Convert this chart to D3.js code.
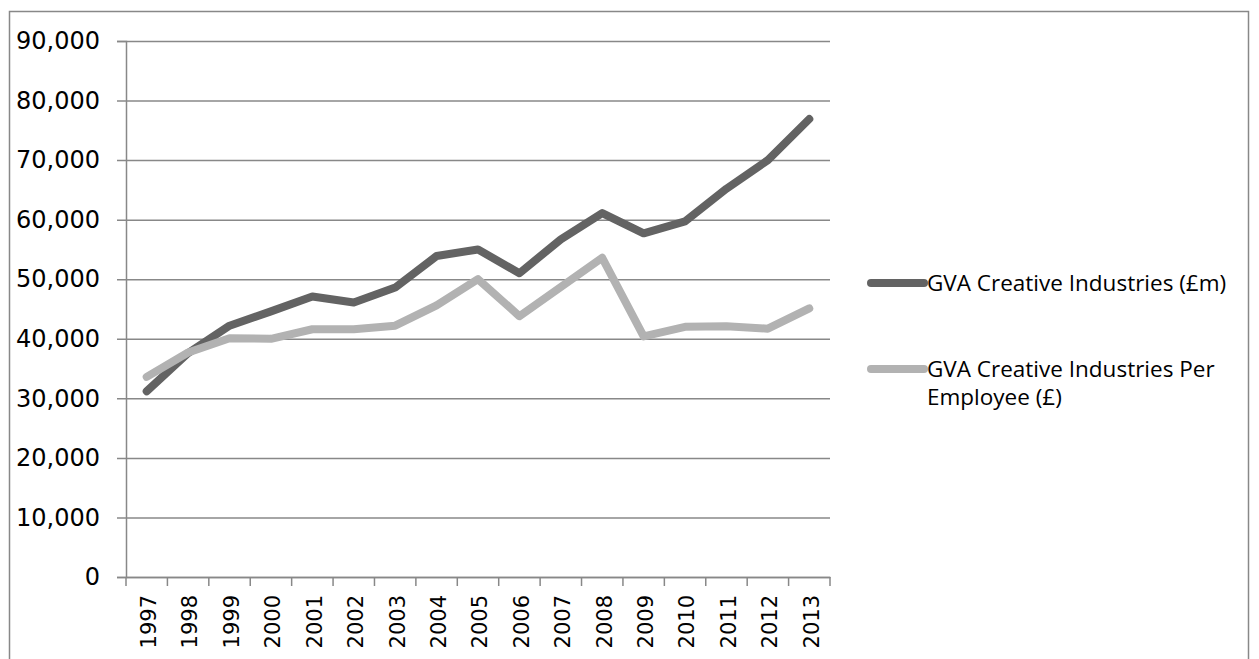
<!DOCTYPE html>
<html>
<head>
<meta charset="utf-8">
<script src="https://cdn.jsdelivr.net/npm/d3@7"></script>
<style>
  body { margin: 0; background: #fff; }
  text { fill: #000; }
</style>
</head>
<body>
<script>
const years = ['1997','1998','1999','2000','2001','2002','2003','2004','2005',
  '2006','2007','2008','2009','2010','2011','2012','2013'];
const gvaTotal = [31200, 37600, 42200, 44600, 47100, 46100, 48600, 53900, 55000,
  51000, 56700, 61100, 57700, 59700, 65200, 70000, 76900];
const gvaPerEmployee = [33600, 37700, 40100, 40000, 41600, 41600, 42200, 45600, 50000,
  43800, 48700, 53600, 40400, 42000, 42100, 41700, 45100];
const yTicks = [0, 10000, 20000, 30000, 40000, 50000, 60000, 70000, 80000, 90000];
// legend labels, already wrapped the way the reference wraps them
const seriesLabels = [['GVA Creative Industries (£m)'],
  ['GVA Creative Industries Per', 'Employee (£)']];

const width = 1259, height = 659;
const plotLeft = 126, plotRight = 830, plotTop = 41, plotBottom = 577;
const axisFont = '"DejaVu Sans", sans-serif';

const svg = d3.select('body').append('svg')
  .attr('width', width)
  .attr('height', height);

// outer frame
svg.append('rect')
  .attr('x', 9.5).attr('y', 11.5)
  .attr('width', 1239).attr('height', 660)
  .attr('fill', 'none').attr('stroke', '#888').attr('stroke-width', 1.5);

const x = d3.scaleBand().domain(years).range([plotLeft, plotRight]);
const y = d3.scaleLinear().domain([0, 90000]).range([plotBottom, plotTop]);

// gridlines + y ticks
const yAxis = svg.append('g')
  .attr('transform', `translate(${plotLeft},0)`)
  .call(d3.axisLeft(y).tickValues(yTicks).tickSize(9).tickPadding(17)
    .tickFormat(d3.format(',')));
yAxis.attr('font-family', null).attr('font-size', null);
yAxis.select('.domain').attr('stroke', '#888').attr('stroke-width', 1.5);
yAxis.selectAll('.tick line').attr('stroke', '#888').attr('stroke-width', 1.5)
  .attr('x1', plotRight - plotLeft);
yAxis.selectAll('.tick text')
  .style('font-size', '24px')
  .style('font-family', axisFont);

// x axis
const xAxis = svg.append('g')
  .attr('transform', `translate(0,${plotBottom})`)
  .call(d3.axisBottom(x).tickSize(0).tickFormat(d => d));
xAxis.attr('font-family', null).attr('font-size', null);
xAxis.select('.domain').attr('stroke', '#888').attr('stroke-width', 1.5);
xAxis.selectAll('.tick text')
  .style('font-size', '21px')
  .style('font-family', axisFont)
  .attr('transform', 'rotate(-90)')
  .attr('text-anchor', 'end')
  .attr('x', -18).attr('y', 2).attr('dy', '0.35em');

// category boundary ticks
const edges = years.map(d => x(d)).concat([plotRight]);
svg.append('g').selectAll('line').data(edges).join('line')
  .attr('x1', d => d).attr('x2', d => d)
  .attr('y1', plotBottom).attr('y2', plotBottom + 9)
  .attr('stroke', '#888').attr('stroke-width', 1.5);

const line = d3.line()
  .x((d, i) => x(years[i]) + x.bandwidth() / 2)
  .y(d => y(d));

const colors = ['#636363', '#b2b2b2'];
[gvaTotal, gvaPerEmployee].forEach((s, i) => {
  svg.append('path')
    .datum(s)
    .attr('d', line)
    .attr('fill', 'none')
    .attr('stroke', colors[i])
    .attr('stroke-width', 8)
    .attr('stroke-linejoin', 'round')
    .attr('stroke-linecap', 'round');
});

// legend
const legend = svg.append('g');
const legendY = [283, 369];
seriesLabels.forEach((lines, i) => {
  legend.append('line')
    .attr('x1', 871).attr('x2', 924)
    .attr('y1', legendY[i]).attr('y2', legendY[i])
    .attr('stroke', colors[i]).attr('stroke-width', 8)
    .attr('stroke-linecap', 'round');
  lines.forEach((txt, j) => {
    legend.append('text')
      .attr('x', 927).attr('y', legendY[i] + j * 28)
      .attr('dy', '0.35em')
      .style('font-family', '"Open Sans", sans-serif')
      .style('font-size', '22.5px')
      .text(txt);
  });
});
</script>
</body>
</html>
